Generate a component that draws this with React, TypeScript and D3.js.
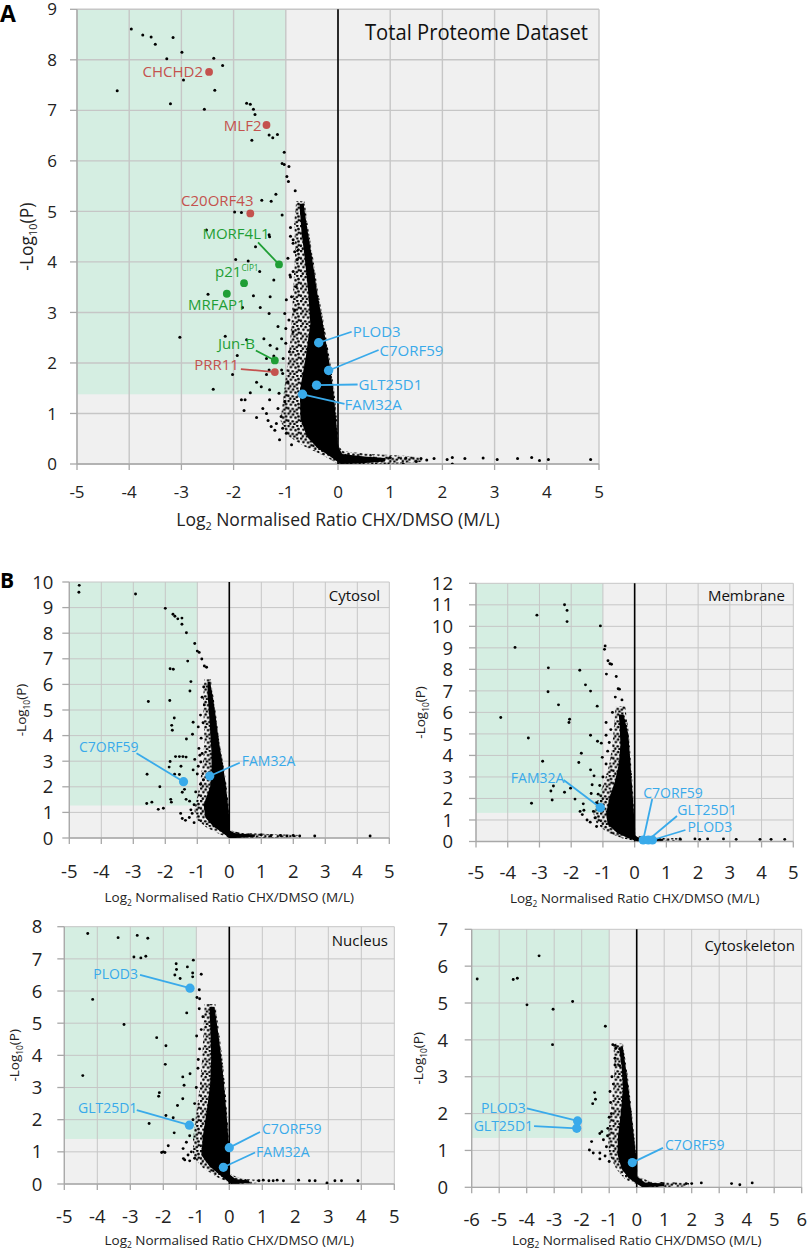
import React from "react";
import * as d3 from "d3";

type Pt = [number, number];
type Hi = { name: string; x: number; y: number; group: string };

// ---------- DATA ----------
const xTicks10 = [-5, -4, -3, -2, -1, 0, 1, 2, 3, 4, 5];
const xTicks12 = [-6, -5, -4, -3, -2, -1, 0, 1, 2, 3, 4, 5, 6];
const yTicksTotal = [0, 1, 2, 3, 4, 5, 6, 7, 8, 9];
const yTicksCytosol = [0, 1, 2, 3, 4, 5, 6, 7, 8, 9, 10];
const yTicksMembrane = [0, 1, 2, 3, 4, 5, 6, 7, 8, 9, 10, 11, 12];
const yTicksNucleus = [0, 1, 2, 3, 4, 5, 6, 7, 8];
const yTicksCytoskeleton = [0, 1, 2, 3, 4, 5, 6, 7];

const totalPoints: Pt[] = [
  [-3.96, 8.61], [-3.74, 8.49], [-3.58, 8.45], [-3.5, 8.31], [-3.16, 8.44], [-3.28, 8.02], [-2.99, 8.15],
  [-2.38, 8.03], [-2.21, 7.89], [-2.96, 7.6], [-2.36, 7.4], [-4.23, 7.39], [-3.21, 7.13], [-2.56, 7.02],
  [-1.75, 7.14], [-1.68, 7.12], [-1.62, 7.02], [-1.59, 6.92], [-1.65, 6.41], [-1.32, 6.51], [-1.25, 6.46],
  [-1.16, 6.52], [-1.03, 6.17], [-1.07, 5.95], [-1.03, 5.93], [-0.94, 5.89], [-0.98, 5.69], [-0.95, 5.59],
  [-0.82, 5.41], [-1.19, 5.34], [-1.46, 5.22], [-1.28, 5.2], [-1.07, 4.93], [-1.98, 4.99], [-1.85, 4.98],
  [-1.32, 4.54], [-1.31, 4.5], [-1.58, 4.3], [-0.91, 4.68], [-0.91, 4.51], [-2.52, 4.63],
  [-1.96, 4.05], [-1.72, 4.02], [-1.5, 3.81], [-1.23, 3.64], [-1.3, 3.31], [-1.62, 3.33], [-2.49, 3.36],
  [-1.83, 3.1], [-1.49, 3.1], [-1.32, 2.98], [-3.03, 2.51], [-2.16, 2.53], [-1.75, 2.46], [-1.93, 2.15],
  [-2.02, 1.77], [-2.39, 1.48], [-1.68, 1.41], [-1.85, 1.27], [-1.78, 1.27], [-1.8, 1.06], [-1.56, 0.92],
  [-1.34, 0.86], [-1.28, 0.74], [-1.06, 0.71], [-1.31, 1.47], [-1.47, 1.53], [-1.56, 1.62], [-1.37, 1.77],
  [-1.32, 1.86], [-1.08, 1.86], [-1.05, 2.09], [-1.17, 2.28], [-1.3, 2.35], [-1.42, 2.48], [-1.23, 2.14],
  [-1.08, 2.48], [-1.0, 2.68], [-1.02, 2.98], [-0.89, 3.31], [-0.92, 3.74], [-0.86, 3.81], [-0.96, 4.07],
  [-0.86, 4.44], [-0.76, 4.24], [-0.86, 4.37], [-0.83, 4.2], [-0.78, 4.05], [-0.91, 3.7], [-0.8, 3.51],
  [-0.99, 3.25], [-0.83, 3.05], [-0.94, 2.85], [-0.86, 2.62], [-1.0, 2.39], [-0.93, 2.22], [-1.06, 1.79],
  [-0.96, 1.63], [-1.13, 1.4], [-1.02, 1.23], [-1.15, 1.1], [-1.09, 0.94], [-1.18, 0.8], [-0.99, 0.61],
  [-1.12, 0.48], [-1.21, 0.67], [-0.89, 0.38], [-1.31, 1.27], [-1.44, 1.1], [-1.37, 1.0], [-1.15, 2.72],
  [-1.37, 2.09], [0.41, 0.12], [1.0, 0.13], [1.3, 0.12], [1.59, 0.11], [1.84, 0.11], [2.09, 0.09],
  [2.19, 0.13], [2.43, 0.11], [2.78, 0.12], [3.05, 0.09], [3.44, 0.11], [3.71, 0.13], [3.86, 0.07],
  [4.03, 0.09], [4.84, 0.09], [1.25, 0.0], [2.19, 0.0], [1.5, 0.05], [1.7, 0.08],
];
const totalCore: Pt[] = [
  [-0.74, 5.15], [-0.66, 5.15], [-0.58, 4.6], [-0.5, 4.1], [-0.4, 3.4], [-0.29, 2.78], [-0.18, 2.1],
  [-0.09, 1.46], [-0.03, 0.8], [0, 0.35], [0.08, 0.2], [0.5, 0.15], [0.9, 0.12], [0.9, 0.05], [0.4, 0.01],
  [0.05, 0], [-0.15, 0.15], [-0.4, 0.32], [-0.6, 0.55], [-0.72, 0.9], [-0.73, 1.46], [-0.62, 2.1],
  [-0.53, 2.78], [-0.57, 3.4], [-0.64, 4.1], [-0.7, 4.6],
];
const totalHalo: Pt[] = [
  [-0.8, 5.2], [-0.64, 5.2], [-0.56, 4.6], [-0.48, 4.1], [-0.38, 3.4], [-0.27, 2.78], [-0.16, 2.1],
  [-0.07, 1.46], [-0.01, 0.8], [0.01, 0.35], [0.1, 0.25], [0.6, 0.2], [1.2, 0.17], [1.6, 0.14], [1.6, 0.04],
  [1.0, 0.0], [0.0, 0.0], [-0.3, 0.18], [-0.65, 0.35], [-0.95, 0.55], [-1.1, 0.85], [-1.05, 1.3],
  [-0.99, 1.8], [-0.92, 2.4], [-0.88, 3.0], [-0.85, 3.6], [-0.82, 4.2], [-0.84, 4.8],
];
const totalHighlights: Hi[] = [
  { name: "CHCHD2", x: -2.47, y: 7.76, group: "red" },
  { name: "MLF2", x: -1.37, y: 6.71, group: "red" },
  { name: "C20ORF43", x: -1.68, y: 4.96, group: "red" },
  { name: "MORF4L1", x: -1.13, y: 3.95, group: "green" },
  { name: "p21", x: -1.8, y: 3.58, group: "green" },
  { name: "MRFAP1", x: -2.13, y: 3.37, group: "green" },
  { name: "Jun-B", x: -1.21, y: 2.05, group: "green" },
  { name: "PRR11", x: -1.21, y: 1.82, group: "red" },
  { name: "PLOD3", x: -0.37, y: 2.4, group: "blue" },
  { name: "C7ORF59", x: -0.18, y: 1.85, group: "blue" },
  { name: "GLT25D1", x: -0.41, y: 1.56, group: "blue" },
  { name: "FAM32A", x: -0.68, y: 1.38, group: "blue" },
];

const cytosolPoints: Pt[] = [
  [-4.69, 9.87], [-4.7, 9.6], [-2.93, 9.53], [-2.0, 8.97], [-1.76, 8.74], [-1.7, 8.66], [-1.61, 8.56],
  [-1.48, 8.59], [-1.48, 8.35], [-1.34, 8.02], [-1.08, 7.6], [-1.0, 7.3], [-0.94, 7.25], [-1.3, 6.91],
  [-0.86, 6.99], [-0.78, 6.72], [-0.71, 6.67], [-1.85, 6.61], [-1.75, 6.59], [-1.2, 6.11], [-1.23, 5.74],
  [-2.53, 5.33], [-1.86, 5.37], [-1.72, 4.69], [-1.8, 4.4], [-1.78, 4.21], [-1.13, 4.52], [-0.97, 4.34],
  [-1.34, 3.87], [-1.15, 4.05], [-2.57, 2.49], [-2.17, 2.0], [-2.58, 1.35], [-2.42, 1.4], [-2.22, 1.12],
  [-2.06, 1.16], [-1.83, 1.51], [-1.81, 1.4], [-1.71, 2.49], [-1.88, 2.77], [-1.85, 2.99], [-1.68, 3.18],
  [-1.56, 3.18], [-1.45, 3.18], [-1.35, 3.16], [-1.51, 2.8], [-1.56, 2.48], [-1.47, 1.79], [-1.4, 1.9],
  [-1.35, 1.51], [-1.24, 1.44], [-1.08, 3.07], [-1.13, 2.66], [-0.97, 2.8], [-0.92, 3.23], [-0.89, 2.97],
  [-0.81, 2.27], [-1.52, 0.96], [-1.47, 0.76], [-1.37, 0.69], [-1.16, 0.96], [-0.8, 5.9], [-0.85, 5.5],
  [-0.78, 5.2], [-0.9, 4.8], [-0.82, 4.5], [-0.88, 3.9], [-0.95, 3.5], [-0.85, 3.3], [-1.0, 2.5],
  [-0.9, 2.1], [-1.05, 1.8], [-1.1, 1.3], [-1.2, 1.1], [-1.25, 0.8], [-1.1, 0.6], [0.6, 0.1], [1.0, 0.12],
  [1.3, 0.09], [1.6, 0.1], [1.8, 0.08], [2.0, 0.1], [2.2, 0.08], [2.67, 0.08], [4.4, 0.08],
];
const cytosolCore: Pt[] = [
  [-0.68, 6.1], [-0.6, 6.1], [-0.5, 5.4], [-0.42, 4.7], [-0.33, 3.8], [-0.22, 3.0], [-0.12, 2.2],
  [-0.05, 1.4], [0, 0.8], [0, 0.3], [0.2, 0.18], [0.8, 0.14], [0.8, 0.05], [0.2, 0.0], [0.0, 0.0],
  [-0.2, 0.2], [-0.5, 0.45], [-0.75, 0.8], [-0.8, 1.3], [-0.6, 2.0], [-0.55, 2.6], [-0.56, 3.4],
  [-0.6, 4.2], [-0.64, 5.0], [-0.68, 5.6],
];
const cytosolHalo: Pt[] = [
  [-0.78, 6.2], [-0.58, 6.2], [-0.48, 5.4], [-0.4, 4.7], [-0.31, 3.8], [-0.2, 3.0], [-0.1, 2.2],
  [-0.03, 1.4], [0.01, 0.8], [0.02, 0.3], [0.4, 0.2], [1.2, 0.16], [2.2, 0.12], [2.2, 0.04], [1.2, 0.0],
  [0, 0], [-0.3, 0.15], [-0.7, 0.4], [-1.0, 0.7], [-1.1, 1.1], [-1.0, 1.6], [-0.9, 2.3], [-0.82, 3.0],
  [-0.78, 3.8], [-0.8, 4.6], [-0.82, 5.4],
];
const cytosolHighlights: Hi[] = [
  { name: "C7ORF59", x: -1.43, y: 2.2, group: "blue" },
  { name: "FAM32A", x: -0.61, y: 2.42, group: "blue" },
];

const membranePoints: Pt[] = [
  [-2.21, 11.0], [-2.13, 10.74], [-3.08, 10.52], [-2.13, 10.22], [-1.08, 10.02], [-3.77, 9.02], [-0.93, 9.09],
  [-0.95, 8.93], [-0.84, 8.4], [-0.78, 8.26], [-0.73, 8.24], [-2.72, 8.07], [-1.73, 7.96], [-0.89, 7.78],
  [-0.58, 7.67], [-1.55, 7.28], [-1.39, 6.99], [-2.73, 6.96], [-0.52, 7.1], [-0.48, 7.08], [-0.61, 6.71],
  [-0.4, 6.58], [-2.4, 6.35], [-1.18, 6.29], [-4.22, 5.76], [-2.05, 5.68], [-2.07, 5.53], [-0.9, 5.53],
  [-1.39, 4.94], [-0.9, 4.94], [-1.17, 4.66], [-1.05, 4.57], [-3.35, 4.81], [-1.68, 4.1], [-1.76, 3.67],
  [-2.9, 3.73], [-1.02, 3.91], [-1.39, 3.33], [-1.28, 3.05], [-2.56, 2.58], [-2.64, 2.35], [-2.6, 1.93],
  [-2.21, 2.29], [-2.02, 2.48], [-1.34, 2.64], [-1.88, 1.97], [-3.25, 1.78], [-1.62, 1.75], [-1.37, 2.23],
  [-1.72, 1.4], [-1.6, 1.45], [-1.65, 1.25], [-1.5, 1.0], [-1.25, 1.1], [-0.7, 6.0], [-0.75, 5.2],
  [-0.8, 4.6], [-0.85, 4.2], [-0.9, 3.6], [-1.0, 3.0], [-1.1, 2.6], [-1.15, 2.2], [-1.2, 1.8], [-1.3, 1.4],
  [-1.4, 0.9], [-1.2, 0.7], [1.43, 0.12], [1.9, 0.12], [2.05, 0.1], [2.3, 0.12], [2.8, 0.12], [3.2, 0.1],
  [3.95, 0.1], [4.3, 0.1], [4.73, 0.1],
];
const membraneCore: Pt[] = [
  [-0.5, 5.9], [-0.35, 5.9], [-0.2, 5.0], [-0.13, 3.6], [-0.06, 2.1], [0, 0.8], [0, 0.3], [0.15, 0.15],
  [0.9, 0.12], [0.9, 0.03], [0.1, 0.0], [-0.2, 0.15], [-0.55, 0.4], [-0.85, 0.8], [-0.9, 1.3], [-0.8, 2.0],
  [-0.62, 2.8], [-0.5, 3.6], [-0.45, 4.5], [-0.47, 5.3],
];
const membraneHalo: Pt[] = [
  [-0.6, 6.3], [-0.3, 6.3], [-0.18, 5.0], [-0.11, 3.6], [-0.04, 2.1], [0.01, 0.8], [0.02, 0.3], [0.4, 0.18],
  [1.5, 0.15], [1.5, 0.03], [0.1, 0], [-0.4, 0.15], [-0.9, 0.45], [-1.2, 0.85], [-1.3, 1.3], [-1.15, 2.0],
  [-0.95, 2.8], [-0.8, 3.6], [-0.7, 4.5], [-0.65, 5.4],
];
const membraneHighlights: Hi[] = [
  { name: "FAM32A", x: -1.08, y: 1.57, group: "blue" },
  { name: "C7ORF59", x: 0.27, y: 0.07, group: "blue" },
  { name: "GLT25D1", x: 0.43, y: 0.07, group: "blue" },
  { name: "PLOD3", x: 0.56, y: 0.07, group: "blue" },
];

const nucleusPoints: Pt[] = [
  [-4.29, 7.79], [-3.37, 7.66], [-2.79, 7.73], [-2.47, 7.64], [-2.89, 7.06], [-2.68, 7.03], [-2.53, 7.08],
  [-1.09, 6.96], [-1.61, 6.85], [-1.6, 6.67], [-1.27, 6.75], [-1.11, 6.56], [-0.85, 6.52], [-1.65, 6.5],
  [-1.49, 6.39], [-1.11, 6.44], [-0.91, 6.04], [-0.98, 5.8], [-0.9, 5.76], [-4.14, 5.74], [-0.91, 5.45],
  [-1.29, 5.32], [-3.19, 4.96], [-2.2, 4.55], [-1.92, 4.3], [-1.94, 3.72], [-0.99, 4.6], [-0.94, 3.87],
  [-4.44, 3.37], [-1.41, 3.33], [-1.37, 3.07], [-1.19, 3.43], [-2.12, 2.84], [-2.14, 2.73], [-1.41, 2.65],
  [-1.57, 2.44], [-1.92, 2.13], [-1.7, 2.06], [-2.43, 1.88], [-1.67, 1.59], [-1.85, 1.19], [-2.0, 1.0],
  [-2.05, 0.98], [-1.95, 0.98], [-1.39, 0.79], [-1.35, 0.75], [-1.2, 0.72], [-1.05, 0.8], [-0.8, 5.2],
  [-0.85, 4.8], [-0.9, 4.2], [-0.95, 3.6], [-1.0, 3.0], [-1.05, 2.5], [-1.1, 2.0], [-1.2, 1.5], [-1.3, 1.3],
  [-1.4, 1.1], [-1.15, 1.0], [-1.25, 0.9], [0.9, 0.1], [1.03, 0.12], [1.2, 0.1], [1.33, 0.1], [1.45, 0.12],
  [1.64, 0.1], [2.1, 0.12], [2.43, 0.1], [2.6, 0.1], [2.96, 0.03], [3.2, 0.1], [3.4, 0.1], [3.9, 0.1],
];
const nucleusCore: Pt[] = [
  [-0.6, 5.5], [-0.45, 5.5], [-0.35, 4.8], [-0.25, 4.0], [-0.15, 3.0], [-0.07, 2.0], [0, 1.0], [0, 0.3],
  [0.2, 0.15], [0.6, 0.12], [0.6, 0.03], [0.05, 0], [-0.25, 0.25], [-0.6, 0.55], [-0.85, 0.9], [-0.8, 1.5],
  [-0.68, 2.3], [-0.58, 3.1], [-0.55, 3.9], [-0.57, 4.7],
];
const nucleusHalo: Pt[] = [
  [-0.75, 5.6], [-0.42, 5.6], [-0.32, 4.8], [-0.22, 4.0], [-0.12, 3.0], [-0.05, 2.0], [0.01, 1.0],
  [0.02, 0.3], [0.4, 0.16], [0.9, 0.13], [0.9, 0.03], [0.1, 0], [-0.35, 0.2], [-0.8, 0.5], [-1.1, 0.85],
  [-1.1, 1.4], [-1.0, 2.2], [-0.9, 3.0], [-0.82, 3.9], [-0.78, 4.8],
];
const nucleusHighlights: Hi[] = [
  { name: "PLOD3", x: -1.19, y: 6.09, group: "blue" },
  { name: "GLT25D1", x: -1.21, y: 1.83, group: "blue" },
  { name: "C7ORF59", x: 0.0, y: 1.13, group: "blue" },
  { name: "FAM32A", x: -0.18, y: 0.52, group: "blue" },
];

const cytoskeletonPoints: Pt[] = [
  [-5.8, 5.65], [-4.49, 5.64], [-4.34, 5.67], [-3.55, 6.28], [-3.99, 4.95], [-3.04, 4.83], [-2.33, 5.04],
  [-3.06, 3.87], [-1.14, 4.37], [-0.87, 3.87], [-0.78, 3.85], [-0.75, 3.78], [-0.79, 3.5], [-0.79, 3.32],
  [-0.62, 3.3], [-1.53, 2.57], [-1.5, 2.39], [-1.6, 2.27], [-1.27, 1.51], [-1.34, 1.46], [-1.64, 1.24],
  [-1.21, 1.29], [-1.06, 1.4], [-1.72, 1.01], [-1.58, 0.93], [-1.34, 0.93], [-1.34, 0.77], [-1.15, 0.85],
  [-0.97, 2.6], [-0.9, 3.0], [-0.95, 2.3], [-1.0, 1.9], [-1.05, 1.6], [-1.1, 1.1], [-1.0, 0.7],
  [-0.85, 2.8], [-0.92, 2.0], [2.35, 0.12], [3.45, 0.1], [3.75, 0.07], [4.2, 0.12], [1.8, 0.1], [2.0, 0.1],
];
const cytoskeletonCore: Pt[] = [
  [-0.65, 3.8], [-0.5, 3.8], [-0.35, 3.0], [-0.22, 2.2], [-0.12, 1.5], [0, 0.7], [0, 0.3], [0.3, 0.13],
  [1.0, 0.1], [1.0, 0.03], [0.2, 0.0], [-0.3, 0.25], [-0.55, 0.5], [-0.7, 0.9], [-0.68, 1.4], [-0.58, 2.0],
  [-0.5, 2.7], [-0.55, 3.3],
];
const cytoskeletonHalo: Pt[] = [
  [-0.85, 3.9], [-0.5, 3.9], [-0.32, 3.0], [-0.2, 2.2], [-0.1, 1.5], [0.01, 0.7], [0.02, 0.3], [0.5, 0.16],
  [1.9, 0.12], [1.9, 0.02], [0.3, 0], [-0.4, 0.2], [-0.75, 0.5], [-1.0, 0.9], [-1.05, 1.4], [-0.95, 2.0],
  [-0.85, 2.7], [-0.8, 3.3],
];
const cytoskeletonHighlights: Hi[] = [
  { name: "PLOD3", x: -2.15, y: 1.8, group: "blue" },
  { name: "GLT25D1", x: -2.18, y: 1.6, group: "blue" },
  { name: "C7ORF59", x: -0.16, y: 0.67, group: "blue" },
];

// ---------- LAYOUT / STYLE ----------
const COLORS: Record<string, string> = { red: "#c4524e", green: "#1f9e35", blue: "#39aaea" };
const FONT = "'Open Sans', 'Noto Sans', sans-serif";

type LabelPos = { tx: number; ty: number; anchor: string; lx?: number; ly?: number };

const totalLabels: Record<string, LabelPos> = {
  CHCHD2: { tx: -6, ty: 5, anchor: "end" },
  MLF2: { tx: -5, ty: 6, anchor: "end" },
  C20ORF43: { tx: -33, ty: -7, anchor: "middle" },
  MORF4L1: { tx: -43, ty: -25, anchor: "middle", lx: -21, ly: -22 },
  p21: { tx: -29, ty: -6, anchor: "start" },
  MRFAP1: { tx: -10, ty: 16, anchor: "middle" },
  "Jun-B": { tx: -20, ty: -11, anchor: "end", lx: -19, ly: -10 },
  PRR11: { tx: -36, ty: -2, anchor: "end", lx: -34, ly: -3 },
  PLOD3: { tx: 34, ty: -5.5, anchor: "start", lx: 33, ly: -11 },
  C7ORF59: { tx: 51, ty: -15, anchor: "start", lx: 50, ly: -20.5 },
  GLT25D1: { tx: 42, ty: 5, anchor: "start", lx: 41, ly: -0.7 },
  FAM32A: { tx: 42, ty: 15.5, anchor: "start", lx: 42, ly: 9.7 },
};
const cytosolLabels: Record<string, LabelPos> = {
  C7ORF59: { tx: -45, ty: -30, anchor: "end", lx: -47, ly: -28.4 },
  FAM32A: { tx: 32, ty: -10, anchor: "start", lx: 30, ly: -13.3 },
};
const membraneLabels: Record<string, LabelPos> = {
  FAM32A: { tx: -36, ty: -25, anchor: "end", lx: -36.7, ly: -27.7 },
  C7ORF59: { tx: 0, ty: -42, anchor: "start", lx: 9, ly: -41 },
  GLT25D1: { tx: 29, ty: -25, anchor: "start", lx: 28.7, ly: -24 },
  PLOD3: { tx: 35, ty: -7.5, anchor: "start", lx: 33, ly: -10 },
};
const nucleusLabels: Record<string, LabelPos> = {
  PLOD3: { tx: -52, ty: -8.7, anchor: "end", lx: -50, ly: -13.2 },
  GLT25D1: { tx: -52, ty: -12, anchor: "end", lx: -52.6, ly: -15 },
  C7ORF59: { tx: 32.7, ty: -13.7, anchor: "start", lx: 30.7, ly: -15.7 },
  FAM32A: { tx: 32.7, ty: -10.3, anchor: "start", lx: 31.7, ly: -14.8 },
};
const cytoskeletonLabels: Record<string, LabelPos> = {
  PLOD3: { tx: -51.7, ty: -8, anchor: "end", lx: -50.7, ly: -12.5 },
  GLT25D1: { tx: -43.7, ty: 2.7, anchor: "end", lx: -42.7, ly: -2.3 },
  C7ORF59: { tx: 32.7, ty: -12.7, anchor: "start", lx: 30.7, ly: -14.7 },
};

// speckle tile for the dense-but-not-solid fringe of the protein clouds
const speckleDots: Pt[] = [
  [1.2, 1.0], [5.6, 2.1], [9.8, 0.8], [3.4, 4.6], [8.1, 5.2], [11.0, 4.0], [0.9, 8.3],
  [5.2, 8.9], [9.3, 9.6], [2.8, 11.2], [7.0, 11.6], [11.3, 7.9],
];

type PanelCfg = {
  id: string;
  left: number; right: number; top: number; bottom: number;
  xDomain: [number, number]; yDomain: [number, number];
  xTicks: number[]; yTicks: number[];
  thr: number;
  points: Pt[]; core: Pt[]; halo: Pt[]; highlights: Hi[]; labels: Record<string, LabelPos>;
  title: string; titleX: number; titleY: number; titleSize: number; titleLen?: number;
  tickSize: number; yLabelGap: number; xLabelDy: number;
  axisTitleSize: number; xTitleY: number; yTitleX: number;
  labelSize: number; hiR: number; hiRBlue: number; dotR: number; gridW: number;
};

const panels: PanelCfg[] = [
  {
    id: "total", left: 77, right: 599, top: 9.3, bottom: 464,
    xDomain: [-5, 5], yDomain: [0, 9], xTicks: xTicks10, yTicks: yTicksTotal, thr: 1.38,
    points: totalPoints, core: totalCore, halo: totalHalo, highlights: totalHighlights, labels: totalLabels,
    title: "Total Proteome Dataset", titleX: 588, titleY: 39.5, titleSize: 21, titleLen: 223,
    tickSize: 17, yLabelGap: 20, xLabelDy: 34, axisTitleSize: 17.5, xTitleY: 526, yTitleX: 33,
    labelSize: 15, hiR: 3.9, hiRBlue: 4.7, dotR: 1.5, gridW: 1.4,
  },
  {
    id: "cytosol", left: 69.3, right: 389.3, top: 582, bottom: 838,
    xDomain: [-5, 5], yDomain: [0, 10], xTicks: xTicks10, yTicks: yTicksCytosol, thr: 1.27,
    points: cytosolPoints, core: cytosolCore, halo: cytosolHalo, highlights: cytosolHighlights, labels: cytosolLabels,
    title: "Cytosol", titleX: 380, titleY: 600.5, titleSize: 15,
    tickSize: 18.5, yLabelGap: 16, xLabelDy: 40, axisTitleSize: 13.5, xTitleY: 902, yTitleX: 26,
    labelSize: 14, hiR: 4.5, hiRBlue: 4.6, dotR: 1.45, gridW: 1,
  },
  {
    id: "membrane", left: 476, right: 793.3, top: 583.3, bottom: 841.5,
    xDomain: [-5, 5], yDomain: [0, 12], xTicks: xTicks10, yTicks: yTicksMembrane, thr: 1.33,
    points: membranePoints, core: membraneCore, halo: membraneHalo, highlights: membraneHighlights, labels: membraneLabels,
    title: "Membrane", titleX: 785, titleY: 600.5, titleSize: 15,
    tickSize: 18.5, yLabelGap: 23, xLabelDy: 37.5, axisTitleSize: 13.5, xTitleY: 903, yTitleX: 425,
    labelSize: 14, hiR: 4.5, hiRBlue: 4.6, dotR: 1.45, gridW: 1,
  },
  {
    id: "nucleus", left: 64.3, right: 394.3, top: 926.7, bottom: 1184,
    xDomain: [-5, 5], yDomain: [0, 8], xTicks: xTicks10, yTicks: yTicksNucleus, thr: 1.4,
    points: nucleusPoints, core: nucleusCore, halo: nucleusHalo, highlights: nucleusHighlights, labels: nucleusLabels,
    title: "Nucleus", titleX: 388, titleY: 946, titleSize: 15,
    tickSize: 18.5, yLabelGap: 22, xLabelDy: 39, axisTitleSize: 13.5, xTitleY: 1244.5, yTitleX: 19,
    labelSize: 14, hiR: 4.5, hiRBlue: 4.6, dotR: 1.45, gridW: 1,
  },
  {
    id: "cytoskeleton", left: 471.7, right: 801.7, top: 929.3, bottom: 1187.3,
    xDomain: [-6, 6], yDomain: [0, 7], xTicks: xTicks12, yTicks: yTicksCytoskeleton, thr: 1.34,
    points: cytoskeletonPoints, core: cytoskeletonCore, halo: cytoskeletonHalo, highlights: cytoskeletonHighlights, labels: cytoskeletonLabels,
    title: "Cytoskeleton", titleX: 795, titleY: 950.5, titleSize: 15,
    tickSize: 18.5, yLabelGap: 23.5, xLabelDy: 39, axisTitleSize: 13.5, xTitleY: 1244.5, yTitleX: 423,
    labelSize: 14, hiR: 4.5, hiRBlue: 4.6, dotR: 1.45, gridW: 1,
  },
];

function Panel({ cfg }: { cfg: PanelCfg }) {
  const x = d3.scaleLinear().domain(cfg.xDomain).range([cfg.left, cfg.right]);
  const y = d3.scaleLinear().domain(cfg.yDomain).range([cfg.bottom, cfg.top]);
  const shape = d3.line<Pt>().x((d) => x(d[0])).y((d) => y(d[1])).curve(d3.curveLinearClosed);
  const clipId = `clip-${cfg.id}`;
  const w = cfg.right - cfg.left;
  const h = cfg.bottom - cfg.top;
  const gridColor = "#c6c6c6";
  const axisColor = "#a8a8a8";
  const midX = (cfg.left + cfg.right) / 2;
  const midY = (cfg.top + cfg.bottom) / 2;
  const subSize = cfg.axisTitleSize * 0.62;

  return (
    <g>
      <defs>
        <clipPath id={clipId}>
          <rect x={cfg.left} y={cfg.top} width={w} height={h} />
        </clipPath>
      </defs>
      <rect x={cfg.left} y={cfg.top} width={w} height={h} fill="#f0f0f0" />
      <rect x={cfg.left} y={cfg.top} width={x(-1) - cfg.left} height={y(cfg.thr) - cfg.top} fill="#d5eee2" />
      {cfg.xTicks.map((t) => (
        <line key={"gx" + t} x1={x(t)} x2={x(t)} y1={cfg.top} y2={cfg.bottom} stroke={gridColor} strokeWidth={cfg.gridW} />
      ))}
      {cfg.yTicks.map((t) => (
        <line key={"gy" + t} x1={cfg.left} x2={cfg.right} y1={y(t)} y2={y(t)} stroke={gridColor} strokeWidth={cfg.gridW} />
      ))}
      <line x1={cfg.left} x2={cfg.left} y1={cfg.top} y2={cfg.bottom} stroke={axisColor} strokeWidth={1.3} />
      <line x1={cfg.left} x2={cfg.right} y1={cfg.bottom} y2={cfg.bottom} stroke={axisColor} strokeWidth={1.3} />
      {cfg.yTicks.map((t) => (
        <line key={"ty" + t} x1={cfg.left - 7} x2={cfg.left} y1={y(t)} y2={y(t)} stroke={axisColor} strokeWidth={1.3} />
      ))}
      {cfg.xTicks.map((t) => (
        <line key={"tx" + t} x1={x(t)} x2={x(t)} y1={cfg.bottom} y2={cfg.bottom + 6} stroke={axisColor} strokeWidth={1.3} />
      ))}
      <line x1={x(0)} x2={x(0)} y1={cfg.top} y2={cfg.bottom} stroke="#000" strokeWidth={1.6} />
      <g clipPath={`url(#${clipId})`}>
        <path d={shape(cfg.halo) || ""} fill="url(#speckle)" />
        <path d={shape(cfg.core) || ""} fill="#000" />
        {cfg.points.map((p, i) => (
          <circle key={i} cx={x(p[0])} cy={y(p[1])} r={cfg.dotR} fill="#000" />
        ))}
      </g>
      {cfg.highlights.map((hl) => {
        const px = x(hl.x);
        const py = y(hl.y);
        const lp = cfg.labels[hl.name];
        const c = COLORS[hl.group];
        return lp && lp.lx !== undefined ? (
          <line key={hl.name + "l"} x1={px + lp.lx} y1={py + (lp.ly || 0)} x2={px} y2={py} stroke={c} strokeWidth={1.8} />
        ) : null;
      })}
      {cfg.highlights.map((hl) => {
        const px = x(hl.x);
        const py = y(hl.y);
        const lp = cfg.labels[hl.name];
        const c = COLORS[hl.group];
        const r = hl.group === "blue" ? cfg.hiRBlue : cfg.hiR;
        return (
          <g key={hl.name + "d"}>
            <circle cx={px} cy={py} r={r} fill={c} />
            {lp && (
              <text x={px + lp.tx} y={py + lp.ty} textAnchor={lp.anchor} fill={c}
                fontFamily={FONT} fontSize={cfg.labelSize}>
                {hl.name === "p21" ? (
                  <>
                    p21
                    <tspan fontSize={cfg.labelSize * 0.55} dy={-6}>CIP1</tspan>
                  </>
                ) : hl.name}
              </text>
            )}
          </g>
        );
      })}
      {cfg.yTicks.map((t) => (
        <text key={"ly" + t} x={cfg.left - cfg.yLabelGap} y={y(t)} dy="0.36em" textAnchor="end"
          fontFamily={FONT} fontSize={cfg.tickSize} fill="#222">{t}</text>
      ))}
      {cfg.xTicks.map((t) => (
        <text key={"lx" + t} x={x(t)} y={cfg.bottom + cfg.xLabelDy} textAnchor="middle"
          fontFamily={FONT} fontSize={cfg.tickSize} fill="#222">{t}</text>
      ))}
      <text x={midX} y={cfg.xTitleY} textAnchor="middle" fontFamily={FONT} fontSize={cfg.axisTitleSize} fill="#222">
        Log<tspan fontSize={subSize} dy={3.5}>2</tspan>
        <tspan dy={-3.5}> Normalised Ratio CHX/DMSO (M/L)</tspan>
      </text>
      <text transform={`translate(${cfg.yTitleX},${midY}) rotate(-90)`} textAnchor="middle"
        fontFamily={FONT} fontSize={cfg.axisTitleSize} fill="#222">
        -Log<tspan fontSize={subSize} dy={3.5}>10</tspan>
        <tspan dy={-3.5}>(P)</tspan>
      </text>
      <text x={cfg.titleX} y={cfg.titleY} textAnchor="end" fontFamily={FONT} fontSize={cfg.titleSize} fill="#111"
        {...(cfg.titleLen ? { textLength: cfg.titleLen, lengthAdjust: "spacingAndGlyphs" } : {})}>
        {cfg.title}
      </text>
    </g>
  );
}

export default function App() {
  return (
    <svg width={807} height={1251} viewBox="0 0 807 1251"
      style={{ position: "absolute", left: 0, top: 0, background: "#fff" }}>
      <defs>
        <pattern id="speckle" width={12.5} height={12.5} patternUnits="userSpaceOnUse">
          {speckleDots.map((d, i) => (
            <circle key={i} cx={d[0]} cy={d[1]} r={1.3} fill="#000" />
          ))}
        </pattern>
      </defs>
      <rect x={0} y={0} width={807} height={1251} fill="#fff" />
      {panels.map((p) => (
        <Panel key={p.id} cfg={p} />
      ))}
      <text x={0} y={22} fontFamily={FONT} fontWeight="bold" fontSize={23} fill="#000">A</text>
      <text x={0} y={588} fontFamily={FONT} fontWeight="bold" fontSize={21} fill="#000">B</text>
    </svg>
  );
}
